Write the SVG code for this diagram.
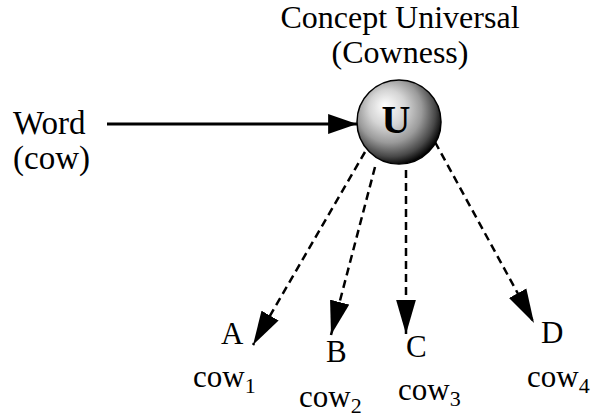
<svg xmlns="http://www.w3.org/2000/svg" width="593" height="419" viewBox="0 0 593 419" font-family="'Liberation Serif', 'Times New Roman', serif">
<defs>
<style>
text{font-family:'Liberation Serif','Times New Roman',serif;fill:#000}
.lbl{font-size:31px}
.top{font-size:32px}
.big{font-size:33px}
.sub{font-size:22px}
.dash{stroke:#000;stroke-width:2.5;stroke-dasharray:8 5;fill:none}
.solid{stroke:#000;stroke-width:3;fill:none}
</style>
<radialGradient id="ball" cx="0.42" cy="0.4" r="0.62" fx="0.33" fy="0.3">
<stop offset="0" stop-color="#ffffff"/>
<stop offset="0.35" stop-color="#d4d4d4"/>
<stop offset="0.62" stop-color="#9a9a9a"/>
<stop offset="0.85" stop-color="#484848"/>
<stop offset="1" stop-color="#000000"/>
</radialGradient>
<marker id="headS" markerUnits="userSpaceOnUse" markerWidth="30" markerHeight="20" viewBox="0 0 26 18" refX="26" refY="9" orient="auto">
<path d="M0,0 L26,9 L0,18 Z" fill="#000"/>
</marker>
<marker id="headD" markerUnits="userSpaceOnUse" markerWidth="34" markerHeight="20" viewBox="0 0 31 18" refX="31" refY="9" orient="auto">
<path d="M0,0 L31,9 L0,18 Z" fill="#000"/>
</marker>
</defs>
<g id="connectors">
<line class="solid" x1="107" y1="124" x2="357" y2="124" marker-end="url(#headS)"/>
<line class="dash" x1="365" y1="152" x2="253" y2="345" marker-end="url(#headD)"/>
<line class="dash" x1="375" y1="167" x2="331" y2="335" marker-end="url(#headD)"/>
<line class="dash" x1="406" y1="170" x2="406" y2="334" marker-end="url(#headD)"/>
<line class="dash" x1="435" y1="142" x2="534" y2="323" marker-end="url(#headD)"/>
</g>
<g id="universal">
<circle cx="399" cy="122" r="42" fill="url(#ball)" stroke="#000" stroke-width="1.5"/>
<text x="396" y="133" text-anchor="middle" font-size="40" font-weight="bold" font-family="'Liberation Serif', serif">U</text>
<text class="top" x="400" y="28" text-anchor="middle" font-family="'Liberation Serif', serif">Concept Universal</text>
<text class="top" x="400" y="63" text-anchor="middle" font-family="'Liberation Serif', serif">(Cowness)</text>
</g>
<g id="word">
<text class="big" x="13" y="134" font-family="'Liberation Serif', serif">Word</text>
<text class="big" x="13" y="169" font-family="'Liberation Serif', serif">(cow)</text>
</g>
<g id="nodeA">
<text class="lbl" x="221" y="344" font-family="'Liberation Serif', serif">A</text>
<text class="lbl" x="193" y="387" font-family="'Liberation Serif', serif">cow<tspan class="sub" dy="6">1</tspan></text>
</g>
<g id="nodeB">
<text class="lbl" x="326" y="362" font-family="'Liberation Serif', serif">B</text>
<text class="lbl" x="299" y="407" font-family="'Liberation Serif', serif">cow<tspan class="sub" dy="6">2</tspan></text>
</g>
<g id="nodeC">
<text class="lbl" x="406" y="357" font-family="'Liberation Serif', serif">C</text>
<text class="lbl" x="398" y="400" font-family="'Liberation Serif', serif">cow<tspan class="sub" dy="6">3</tspan></text>
</g>
<g id="nodeD">
<text class="lbl" x="541" y="343" font-family="'Liberation Serif', serif">D</text>
<text class="lbl" x="527" y="387" font-family="'Liberation Serif', serif">cow<tspan class="sub" dy="6">4</tspan></text>
</g>
</svg>
